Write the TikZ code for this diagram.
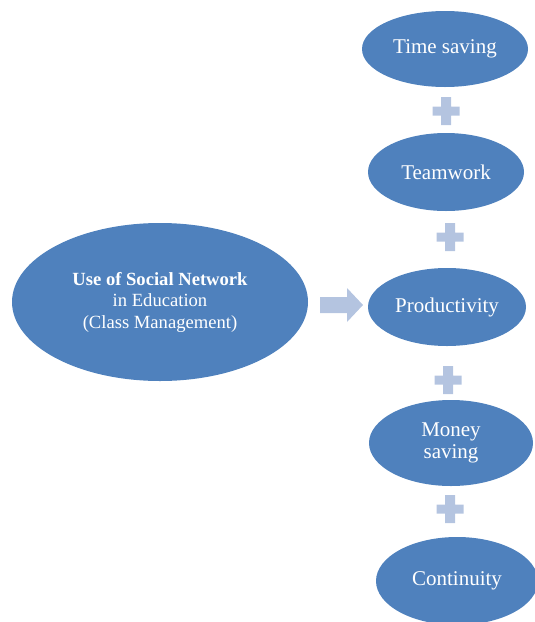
\documentclass[tikz,border=0pt]{standalone}
\usepackage{fontspec}
\setmainfont{Liberation Serif}
\usetikzlibrary{shapes.geometric}
\definecolor{ovalblue}{HTML}{4F81BD}
\definecolor{paleblue}{HTML}{B4C4E0}

\begin{document}
\begin{tikzpicture}[x=1pt,y=-1pt,
  oval/.style={ellipse,fill=ovalblue,text=white,inner sep=0pt,align=center,
    font=\fontsize{21}{22}\selectfont},
  plusbar/.style={fill=paleblue}]
  \clip (0,0) rectangle (535,622); % page
  \node[oval,minimum width=296,minimum height=158,font=\fontsize{18.6}{21.5}\selectfont] (use) at (160,302)
    {\textbf{Use of Social Network}\\in Education\\(Class Management)};
  \node[oval,minimum width=166,minimum height=76] (time) at (445,49) {Time saving};
  \node[oval,minimum width=156,minimum height=78] (team) at (446,172) {Teamwork};
  \node[oval,minimum width=158,minimum height=78] (prod) at (447,307) {Productivity};
  \node[oval,minimum width=164,minimum height=86] (money) at (451,443) {Money\\saving};
  \node[oval,minimum width=162,minimum height=88] (cont) at (457,581) {Continuity};
  % arrow
  \fill[paleblue] (320,297) -- (347,297) -- (347,288) -- (363,305) -- (347,322) -- (347,313) -- (320,313) -- cycle;
  % plus signs
  \foreach \px/\py in {446/111, 450/237, 448/380, 450/509}
    \fill[plusbar] (\px-13.5,\py-4.5) rectangle ++(27,9) (\px-5,\py-14) rectangle ++(10,28);
\end{tikzpicture}
\end{document}
